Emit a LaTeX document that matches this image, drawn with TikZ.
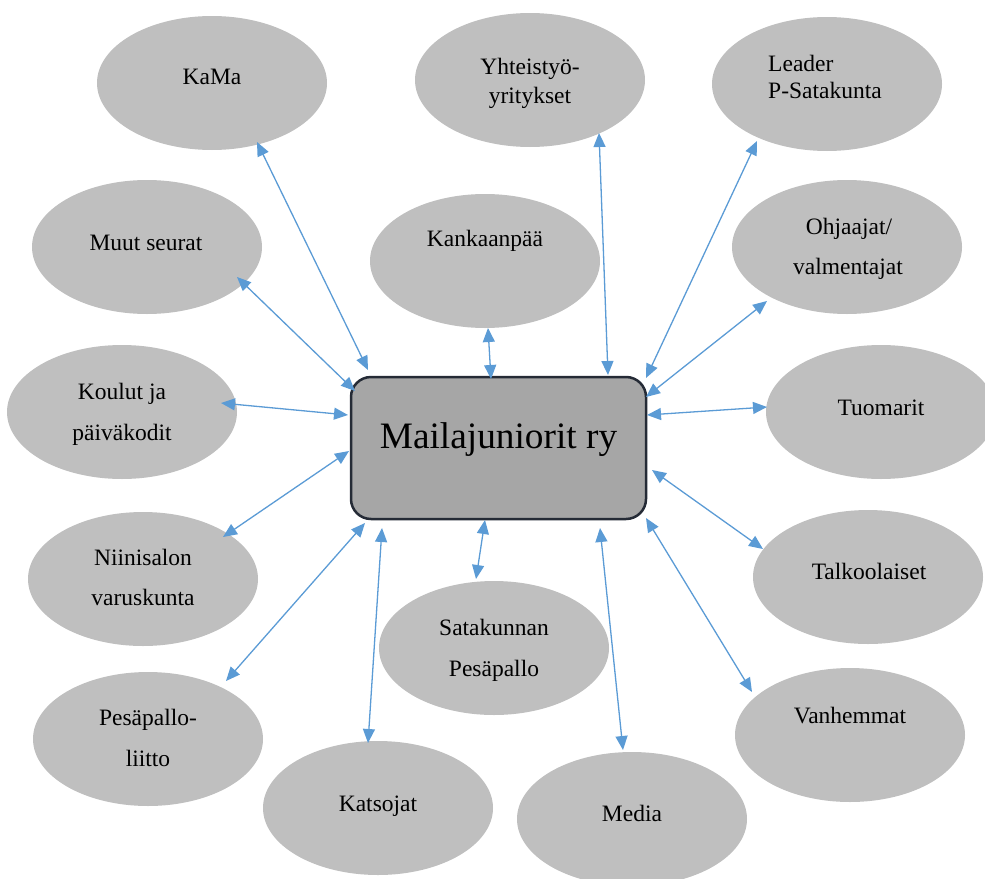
\documentclass[tikz,border=0pt]{standalone}
\usepackage{fontspec}
\setmainfont{Liberation Serif}
\usetikzlibrary{shapes.geometric,arrows.meta}
\definecolor{ellfill}{HTML}{BFBFBF}
\definecolor{boxfill}{HTML}{A6A6A6}
\definecolor{boxline}{HTML}{252B36}
\definecolor{connc}{HTML}{5B9BD5}
\begin{document}
\begin{tikzpicture}[x=1pt,y=-1pt,
  ell/.style={ellipse, fill=ellfill, minimum width=230pt, minimum height=134pt, inner sep=0pt},
  lbl/.style={anchor=base, font=\fontsize{23.5}{28}\selectfont, inner sep=0pt, text=black},
  lblw/.style={lbl, anchor=base west},
  link/.style={draw=connc, line width=1.3pt, {Triangle[length=14pt,width=12pt]}-{Triangle[length=14pt,width=12pt]}}]
\useasboundingbox (0,0) rectangle (985,878);
\clip (0,0) rectangle (985,878);
% ellipses
\node[ell] (kama) at (212,83) {};
\node[ell] (yht) at (530,80) {};
\node[ell] (leader) at (827,84) {};
\node[ell] (muut) at (147,247) {};
\node[ell] (kank) at (485,261) {};
\node[ell] (ohj) at (847,247) {};
\node[ell] (koulut) at (122,412) {};
\node[ell] (tuom) at (881,412) {};
\node[ell] (niini) at (143,579) {};
\node[ell] (talk) at (868,577) {};
\node[ell] (satak) at (494,648) {};
\node[ell] (liitto) at (148,739) {};
\node[ell] (vanh) at (850,735) {};
\node[ell] (kats) at (378,808) {};
\node[ell] (media) at (632,819) {};
% labels
\node[lbl] (kamaT) at (212,84) {KaMa};
\node[lbl] (yhtT1) at (530,74) {Yhteistyö-};
\node[lbl] (yhtT2) at (530,103) {yritykset};
\node[lblw] (leaderT1) at (768,71) {Leader};
\node[lblw] (leaderT2) at (768,98) {P-Satakunta};
\node[lbl] (muutT) at (146,250) {Muut seurat};
\node[lbl] (kankT) at (485,246) {Kankaanpää};
\node[lbl] (ohjT1) at (849,234) {Ohjaajat/};
\node[lbl] (ohjT2) at (848,274) {valmentajat};
\node[lbl] (kouluT1) at (122,399) {Koulut ja};
\node[lbl] (kouluT2) at (122,440) {päiväkodit};
\node[lbl] (tuomT) at (881,415) {Tuomarit};
\node[lbl] (niiniT1) at (143,565) {Niinisalon};
\node[lbl] (niiniT2) at (143,605) {varuskunta};
\node[lbl] (talkT) at (869,579) {Talkoolaiset};
\node[lbl] (satakT1) at (494,635) {Satakunnan};
\node[lbl] (satakT2) at (494,676) {Pesäpallo};
\node[lbl] (liittoT1) at (148,725) {Pesäpallo-};
\node[lbl] (liittoT2) at (148,766) {liitto};
\node[lbl] (vanhT) at (850,723) {Vanhemmat};
\node[lbl] (katsT) at (378,811) {Katsojat};
\node[lbl] (mediaT) at (632,821) {Media};
% central box
\node[draw=boxline, line width=2.5pt, fill=boxfill, rounded corners=20pt,
      minimum width=295pt, minimum height=142pt, inner sep=0pt,
      text height=12pt, text depth=12pt,
      font=\fontsize{37.3}{44}\selectfont] (main) at (498.5,448) {Mailajuniorit ry};
% connector end points
\coordinate (kamaE) at (257,142);   \coordinate (kamaM) at (368,370);
\coordinate (yhtE) at (599,133);    \coordinate (yhtM) at (608,375);
\coordinate (leaderE) at (757,141); \coordinate (leaderM) at (646,378);
\coordinate (muutE) at (237,277);   \coordinate (muutM) at (355,391);
\coordinate (kankE) at (488,328);   \coordinate (kankM) at (491,379);
\coordinate (ohjE) at (767,301);    \coordinate (ohjM) at (646,397);
\coordinate (kouluE) at (221,403);  \coordinate (kouluM) at (348,415);
\coordinate (tuomE) at (767,407);   \coordinate (tuomM) at (647,415);
\coordinate (niiniE) at (223,537);  \coordinate (niiniM) at (349,451);
\coordinate (talkE) at (763,549);   \coordinate (talkM) at (652,470);
\coordinate (satakE) at (476,579);  \coordinate (satakM) at (485,520);
\coordinate (liittoE) at (226,681); \coordinate (liittoM) at (365,523);
\coordinate (vanhE) at (752,692);   \coordinate (vanhM) at (646,518);
\coordinate (katsE) at (368,743);   \coordinate (katsM) at (382,528);
\coordinate (mediaE) at (623,750);  \coordinate (mediaM) at (600,528);
% connectors
\foreach \n in {kama,yht,leader,muut,kank,ohj,koulu,tuom,niini,talk,satak,liitto,vanh,kats,media}
  \draw[link] (\n E) -- (\n M);
\end{tikzpicture}
\end{document}
